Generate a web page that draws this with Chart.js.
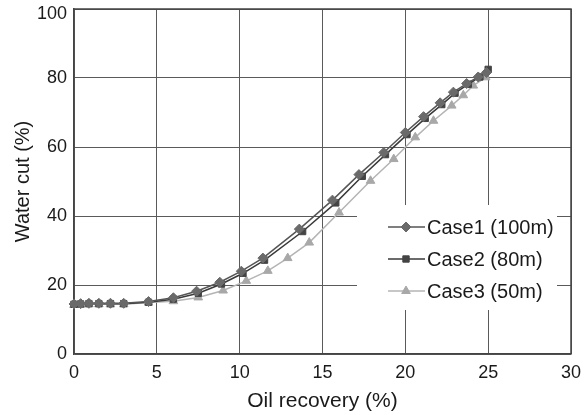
<!DOCTYPE html>
<html>
<head>
<meta charset="utf-8">
<script src="https://cdn.jsdelivr.net/npm/chart.js@4/dist/chart.umd.min.js"></script>
<style>
  html, body { margin: 0; padding: 0; background: #fff; }
  #wrap { width: 586px; height: 415px; position: relative; }
</style>
</head>
<body>
<div id="wrap"><canvas id="c" width="586" height="415"></canvas></div>
<script>
// Oil recovery (%) vs water cut (%) for three well spacings
const seriesNames = ['Case1 (100m)', 'Case2 (80m)', 'Case3 (50m)'];

const case1Recovery = [0, 0.4, 0.9, 1.5, 2.2, 3.0, 4.5, 6.0, 7.4, 8.8, 10.1, 11.4, 13.6, 15.6, 17.2, 18.7, 20.0, 21.1, 22.1, 22.9, 23.7, 24.4, 24.9];
const case1WaterCut = [14.5, 14.6, 14.7, 14.7, 14.7, 14.7, 15.2, 16.3, 18.2, 20.8, 24.0, 27.8, 36.2, 44.6, 52.0, 58.4, 64.2, 68.8, 72.8, 75.9, 78.4, 80.3, 81.6];

const case2Recovery = [0, 0.4, 0.9, 1.5, 2.2, 3.0, 4.5, 6.0, 7.5, 8.9, 10.2, 11.5, 13.8, 15.8, 17.4, 18.8, 20.1, 21.2, 22.2, 23.0, 23.8, 24.5, 25.0];
const case2WaterCut = [14.4, 14.5, 14.6, 14.6, 14.6, 14.6, 15.0, 15.9, 17.6, 20.3, 23.4, 27.2, 35.5, 43.8, 51.5, 57.8, 63.6, 68.3, 72.3, 75.6, 78.2, 80.3, 82.5];

const case3Recovery = [0, 0.4, 0.9, 1.5, 2.2, 3.0, 4.5, 6.0, 7.5, 9.0, 10.4, 11.7, 12.9, 14.2, 16.0, 17.9, 19.3, 20.6, 21.7, 22.8, 23.5, 24.1, 24.85];
const case3WaterCut = [14.2, 14.3, 14.4, 14.4, 14.4, 14.4, 14.9, 15.3, 16.4, 18.4, 21.2, 24.1, 27.8, 32.3, 41.0, 50.2, 56.5, 62.8, 67.6, 72.0, 75.0, 77.8, 80.2];

const xTicks = [0, 5, 10, 15, 20, 25, 30];
const yTicks = [0, 20, 40, 60, 80, 100];

const toPoints = (xs, ys) => xs.map((x, i) => ({ x: x, y: ys[i] }));

const FONT = '"Liberation Sans", Arial, sans-serif';

const styles = [
  { line: '#555555', fill: '#6a6a6a', shape: 'rectRot', r: 5 },
  { line: '#3a3a3a', fill: '#444444', shape: 'rect', r: 4.5 },
  { line: '#b4b4b4', fill: '#a8a8a8', shape: 'triangle', r: 5 }
];

const seriesPoints = [
  toPoints(case1Recovery, case1WaterCut),
  toPoints(case2Recovery, case2WaterCut),
  toPoints(case3Recovery, case3WaterCut)
];

const datasets = seriesNames.map((name, i) => ({
  label: name,
  data: seriesPoints[i],
  showLine: true,
  borderColor: styles[i].line,
  borderWidth: 1.5,
  backgroundColor: styles[i].fill,
  pointBackgroundColor: styles[i].fill,
  pointBorderColor: styles[i].fill,
  pointBorderWidth: 1,
  pointStyle: styles[i].shape,
  pointRadius: styles[i].r,
  tension: 0,
  clip: false
}));

// Legend drawn inside the plot on a white panel that hides the grid behind it
const insideLegend = {
  id: 'insideLegend',
  beforeDatasetsDraw(chart) {
    const ctx = chart.ctx;
    ctx.save();
    ctx.fillStyle = '#ffffff';
    ctx.fillRect(357, 205, 200, 105);
    const rows = [227, 259, 291];
    chart.data.datasets.forEach((ds, i) => {
      const y = rows[i];
      ctx.strokeStyle = ds.borderColor;
      ctx.lineWidth = ds.borderWidth;
      ctx.beginPath();
      ctx.moveTo(388, y);
      ctx.lineTo(425, y);
      ctx.stroke();
      ctx.fillStyle = ds.pointBackgroundColor;
      ctx.strokeStyle = ds.pointBorderColor;
      ctx.lineWidth = 1;
      Chart.helpers.drawPoint(ctx, {
        pointStyle: ds.pointStyle,
        radius: ds.pointRadius,
        borderWidth: 1
      }, 406, y);
      ctx.fillStyle = '#1a1a1a';
      ctx.font = '20px ' + FONT;
      ctx.textBaseline = 'middle';
      ctx.textAlign = 'left';
      ctx.fillText(ds.label, 427, y + 1);
    });
    ctx.restore();
  }
};

// closes the plot box on the top and right
const frame = {
  id: 'frame',
  afterDraw(chart) {
    const a = chart.chartArea, ctx = chart.ctx;
    ctx.save();
    ctx.strokeStyle = '#444444';
    ctx.lineWidth = 1.5;
    ctx.beginPath();
    ctx.moveTo(a.left, a.top);
    ctx.lineTo(a.right, a.top);
    ctx.lineTo(a.right, a.bottom);
    ctx.stroke();
    ctx.restore();
  }
};

// nudges the topmost y label down so it sits inside the canvas
const topLabelNudge = {
  id: 'topLabelNudge',
  beforeDraw(chart) {
    const s = chart.scales.y;
    const items = s._computeLabelItems(chart.chartArea);
    const last = items[items.length - 1];
    if (last && last.options && last.options.translation) {
      last.options.translation = [last.options.translation[0], last.options.translation[1] + 5];
    }
    s._labelItems = items;
  }
};

new Chart(document.getElementById('c'), {
  type: 'scatter',
  data: { datasets: datasets },
  options: {
    responsive: false,
    animation: false,
    layout: { padding: { left: 11, right: 15, top: 9, bottom: 1 } },
    plugins: {
      legend: { display: false },
      tooltip: { enabled: false }
    },
    scales: {
      x: {
        type: 'linear',
        min: 0, max: 30,
        afterBuildTicks: (s) => { s.ticks = xTicks.map(v => ({ value: v })); },
        afterFit: (s) => { s.height = 60; s.paddingRight = 0; },
        grid: { color: '#5a5a5a', lineWidth: 1, drawTicks: false },
        border: { color: '#444444', width: 1.5 },
        ticks: { color: '#1a1a1a', font: { family: FONT, size: 18 }, padding: 8 },
        title: { display: true, text: 'Oil recovery (%)', color: '#1a1a1a', font: { family: FONT, size: 21 }, padding: 0 }
      },
      y: {
        type: 'linear',
        min: 0, max: 100,
        afterBuildTicks: (s) => { s.ticks = yTicks.map(v => ({ value: v })); },
        afterFit: (s) => { s.width = 63; s.paddingTop = 0; s.paddingBottom = 0; },
        grid: { color: '#5a5a5a', lineWidth: 1, drawTicks: false },
        border: { color: '#444444', width: 1.5 },
        ticks: { color: '#1a1a1a', font: { family: FONT, size: 18 }, padding: 7 },
        title: { display: true, text: 'Water cut (%)', color: '#1a1a1a', font: { family: FONT, size: 20 }, padding: 0 }
      }
    }
  },
  plugins: [topLabelNudge, insideLegend, frame]
});
</script>
</body>
</html>
